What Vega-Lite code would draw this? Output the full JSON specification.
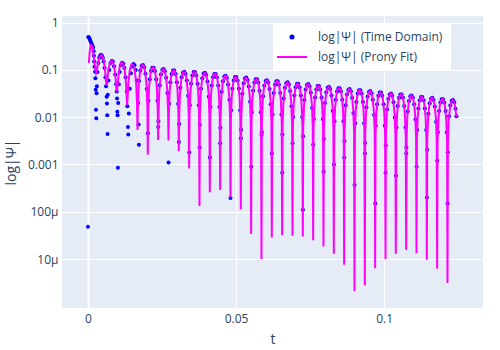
{
"$schema": "https://vega.github.io/schema/vega-lite/v6.json",
"width": 421, "height": 292,
"autosize": {"type": "none"},
"padding": {"left": 62, "top": 16, "right": 17, "bottom": 42},
"background": "white",
"config": {"view": {"fill": "#E5ECF6", "stroke": null}, "font": "Open Sans",
  "legend": {"orient": "none", "legendX": 211, "legendY": 7, "fillColor": "white", "padding": 8,
       "labelFont": "Open Sans", "labelFontSize": 12, "labelColor": "#2a3f5f", "rowPadding": 8,
       "symbolOffset": 5, "labelOffset": 20, "symbolSize": 9, "symbolStrokeWidth": 2}},
"datasets": {
"td": [
{"t":0,"v":0.000048},{"t":0.0001,"v":0.5},{"t":0.0003,"v":0.485},{"t":0.0005,"v":0.46},{"t":0.0007,"v":0.43},{"t":0.0009,"v":0.4},{"t":0.0011,"v":0.37},{"t":0.0013,"v":0.345},{"t":0.0015,"v":0.32},{"t":0.0017,"v":0.3},{"t":0.0019,"v":0.25},{"t":0.002,"v":0.2},{"t":0.0021,"v":0.15},{"t":0.0022,"v":0.117},{"t":0.0024,"v":0.092},{"t":0.0025,"v":0.067},{"t":0.0026,"v":0.038},{"t":0.0027,"v":0.0144},{"t":0.0028,"v":0.0095},{"t":0.0029,"v":0.032},
{"t":0.003,"v":0.045},{"t":0.0032,"v":0.09},{"t":0.0035,"v":0.14},{"t":0.0038,"v":0.18},{"t":0.0041,"v":0.2},{"t":0.0044,"v":0.21},{"t":0.0047,"v":0.2},{"t":0.005,"v":0.18},{"t":0.0053,"v":0.15},{"t":0.0056,"v":0.11},{"t":0.0059,"v":0.07},{"t":0.0061,"v":0.045},{"t":0.0063,"v":0.027},{"t":0.0064,"v":0.0195},{"t":0.0065,"v":0.011},{"t":0.0066,"v":0.0044},
{"t":0.0067,"v":0.03},{"t":0.0069,"v":0.06},{"t":0.0072,"v":0.1},{"t":0.0076,"v":0.14},{"t":0.008,"v":0.155},{"t":0.0084,"v":0.15},{"t":0.0088,"v":0.12},{"t":0.0092,"v":0.08},{"t":0.0095,"v":0.05},{"t":0.0097,"v":0.035},{"t":0.0098,"v":0.025},{"t":0.0099,"v":0.013},{"t":0.01,"v":0.011},{"t":0.0101,"v":0.00085},
{"t":0.0102,"v":0.02},{"t":0.0104,"v":0.05},{"t":0.0107,"v":0.09},{"t":0.0111,"v":0.125},{"t":0.0115,"v":0.142},{"t":0.0119,"v":0.135},{"t":0.0123,"v":0.11},{"t":0.0127,"v":0.07},{"t":0.0131,"v":0.035},{"t":0.0133,"v":0.017},{"t":0.0135,"v":0.0062},{"t":0.0136,"v":0.0043},
{"t":0.0138,"v":0.012},{"t":0.0141,"v":0.04},{"t":0.0145,"v":0.085},{"t":0.0149,"v":0.118},{"t":0.0153,"v":0.133},{"t":0.0157,"v":0.125},{"t":0.0161,"v":0.1},{"t":0.0165,"v":0.06},{"t":0.0169,"v":0.02},{"t":0.0171,"v":0.007},{"t":0.0172,"v":0.0026},
{"t":0.01723,"v":0.0581},{"t":0.01767,"v":0.0973},{"t":0.01811,"v":0.1217},{"t":0.01854,"v":0.1276},{"t":0.01898,"v":0.114},{"t":0.01941,"v":0.0831},{"t":0.01985,"v":0.0396},{"t":0.02023,"v":0.0046},
{"t":0.02042,"v":0.0222},{"t":0.02085,"v":0.0634},{"t":0.02129,"v":0.0947},{"t":0.02173,"v":0.1118},{"t":0.02216,"v":0.1118},{"t":0.0226,"v":0.0947},{"t":0.02304,"v":0.0634},{"t":0.02347,"v":0.0222},{"t":0.02372,"v":0.0062},
{"t":0.02378,"v":0.00824},{"t":0.02421,"v":0.0477},{"t":0.02465,"v":0.0798},{"t":0.02509,"v":0.0999},{"t":0.02552,"v":0.1047},{"t":0.02596,"v":0.0936},{"t":0.02639,"v":0.0681},{"t":0.02683,"v":0.0324},{"t":0.02721,"v":0.0011},
{"t":0.0274,"v":0.0193},{"t":0.02783,"v":0.055},{"t":0.02827,"v":0.0823},{"t":0.02871,"v":0.0971},{"t":0.02914,"v":0.0971},{"t":0.02958,"v":0.0823},{"t":0.03002,"v":0.055},{"t":0.03045,"v":0.0193},{"t":0.0307,"v":0.003},
{"t":0.03076,"v":0.00722},{"t":0.03119,"v":0.0418},{"t":0.03163,"v":0.0699},{"t":0.03207,"v":0.0875},{"t":0.0325,"v":0.0917},{"t":0.03294,"v":0.082},{"t":0.03337,"v":0.0597},{"t":0.03381,"v":0.0284},{"t":0.03419,"v":0.0018},
{"t":0.03438,"v":0.0179},{"t":0.03481,"v":0.0512},{"t":0.03525,"v":0.0765},{"t":0.03569,"v":0.0903},{"t":0.03612,"v":0.0903},{"t":0.03656,"v":0.0765},{"t":0.037,"v":0.0512},{"t":0.03743,"v":0.0179},{"t":0.03768,"v":0.0023},
{"t":0.03774,"v":0.00691},{"t":0.03817,"v":0.04},{"t":0.03861,"v":0.0669},{"t":0.03905,"v":0.0837},{"t":0.03948,"v":0.0877},{"t":0.03992,"v":0.0784},{"t":0.04035,"v":0.0571},{"t":0.04079,"v":0.0272},{"t":0.04117,"v":0.0014},
{"t":0.04136,"v":0.0164},{"t":0.04179,"v":0.0467},{"t":0.04223,"v":0.0698},{"t":0.04267,"v":0.0824},{"t":0.0431,"v":0.0824},{"t":0.04354,"v":0.0698},{"t":0.04398,"v":0.0467},{"t":0.04441,"v":0.0164},{"t":0.04466,"v":0.0028},
{"t":0.04472,"v":0.00597},{"t":0.04515,"v":0.0345},{"t":0.04559,"v":0.0578},{"t":0.04603,"v":0.0723},{"t":0.04646,"v":0.0758},{"t":0.0469,"v":0.0677},{"t":0.04733,"v":0.0493},{"t":0.04777,"v":0.0235},{"t":0.04812,"v":0.000195},
{"t":0.04834,"v":0.014},{"t":0.04877,"v":0.04},{"t":0.04921,"v":0.0598},{"t":0.04965,"v":0.0706},{"t":0.05008,"v":0.0706},{"t":0.05052,"v":0.0598},{"t":0.05096,"v":0.04},{"t":0.05139,"v":0.014},{"t":0.05164,"v":0.0036},
{"t":0.0517,"v":0.00542},{"t":0.05213,"v":0.0313},{"t":0.05257,"v":0.0524},{"t":0.05301,"v":0.0656},{"t":0.05344,"v":0.0688},{"t":0.05388,"v":0.0615},{"t":0.05431,"v":0.0448},{"t":0.05475,"v":0.0213},{"t":0.05513,"v":0.0009},
{"t":0.05532,"v":0.0127},{"t":0.05575,"v":0.0361},{"t":0.05619,"v":0.054},{"t":0.05663,"v":0.0638},{"t":0.05706,"v":0.0638},{"t":0.0575,"v":0.054},{"t":0.05794,"v":0.0361},{"t":0.05837,"v":0.0127},{"t":0.05862,"v":0.0042},
{"t":0.05868,"v":0.00479},{"t":0.05911,"v":0.0277},{"t":0.05955,"v":0.0464},{"t":0.05999,"v":0.058},{"t":0.06042,"v":0.0608},{"t":0.06086,"v":0.0544},{"t":0.06129,"v":0.0396},{"t":0.06173,"v":0.0188},{"t":0.06211,"v":0.0017},
{"t":0.0623,"v":0.0114},{"t":0.06273,"v":0.0326},{"t":0.06317,"v":0.0487},{"t":0.06361,"v":0.0575},{"t":0.06404,"v":0.0575},{"t":0.06448,"v":0.0487},{"t":0.06492,"v":0.0326},{"t":0.06535,"v":0.0114},{"t":0.0656,"v":0.00067},
{"t":0.06566,"v":0.00432},{"t":0.06609,"v":0.025},{"t":0.06653,"v":0.0418},{"t":0.06697,"v":0.0523},{"t":0.0674,"v":0.0548},{"t":0.06784,"v":0.049},{"t":0.06827,"v":0.0357},{"t":0.06871,"v":0.017},{"t":0.06909,"v":0.0028},
{"t":0.06928,"v":0.0101},{"t":0.06971,"v":0.0289},{"t":0.07015,"v":0.0432},{"t":0.07059,"v":0.051},{"t":0.07102,"v":0.051},{"t":0.07146,"v":0.0432},{"t":0.0719,"v":0.0289},{"t":0.07233,"v":0.0101},{"t":0.07258,"v":0.00011},
{"t":0.07264,"v":0.00397},{"t":0.07307,"v":0.023},{"t":0.07351,"v":0.0385},{"t":0.07395,"v":0.0481},{"t":0.07438,"v":0.0504},{"t":0.07482,"v":0.0451},{"t":0.07525,"v":0.0328},{"t":0.07569,"v":0.0156},{"t":0.07607,"v":0.0026},
{"t":0.07626,"v":0.00911},{"t":0.07669,"v":0.026},{"t":0.07713,"v":0.0388},{"t":0.07757,"v":0.0458},{"t":0.078,"v":0.0458},{"t":0.07844,"v":0.0388},{"t":0.07888,"v":0.026},{"t":0.07931,"v":0.00911},{"t":0.07956,"v":0.0007},
{"t":0.07962,"v":0.00348},{"t":0.08005,"v":0.0201},{"t":0.08049,"v":0.0337},{"t":0.08093,"v":0.0421},{"t":0.08136,"v":0.0442},{"t":0.0818,"v":0.0395},{"t":0.08223,"v":0.0288},{"t":0.08267,"v":0.0137},{"t":0.08305,"v":0.001},
{"t":0.08324,"v":0.00819},{"t":0.08367,"v":0.0234},{"t":0.08411,"v":0.0349},{"t":0.08455,"v":0.0412},{"t":0.08498,"v":0.0412},{"t":0.08542,"v":0.0349},{"t":0.08586,"v":0.0234},{"t":0.08629,"v":0.00819},{"t":0.08654,"v":0.0014},
{"t":0.0866,"v":0.00312},{"t":0.08703,"v":0.018},{"t":0.08747,"v":0.0302},{"t":0.08791,"v":0.0378},{"t":0.08834,"v":0.0396},{"t":0.08878,"v":0.0354},{"t":0.08921,"v":0.0258},{"t":0.08965,"v":0.0123},{"t":0.09003,"v":0.00037},
{"t":0.09022,"v":0.00741},{"t":0.09065,"v":0.0211},{"t":0.09109,"v":0.0316},{"t":0.09153,"v":0.0373},{"t":0.09196,"v":0.0373},{"t":0.0924,"v":0.0316},{"t":0.09284,"v":0.0211},{"t":0.09327,"v":0.00741},{"t":0.09352,"v":0.0017},
{"t":0.09358,"v":0.00283},{"t":0.09401,"v":0.0163},{"t":0.09445,"v":0.0274},{"t":0.09489,"v":0.0342},{"t":0.09532,"v":0.0359},{"t":0.09576,"v":0.0321},{"t":0.09619,"v":0.0234},{"t":0.09663,"v":0.0111},{"t":0.09701,"v":0.00015},
{"t":0.0972,"v":0.00663},{"t":0.09763,"v":0.0189},{"t":0.09807,"v":0.0283},{"t":0.09851,"v":0.0334},{"t":0.09894,"v":0.0334},{"t":0.09938,"v":0.0283},{"t":0.09982,"v":0.0189},{"t":0.10025,"v":0.00663},{"t":0.1005,"v":0.00067},
{"t":0.10056,"v":0.00251},{"t":0.10099,"v":0.0145},{"t":0.10143,"v":0.0243},{"t":0.10187,"v":0.0304},{"t":0.1023,"v":0.0319},{"t":0.10274,"v":0.0285},{"t":0.10317,"v":0.0208},{"t":0.10361,"v":0.00989},{"t":0.10399,"v":0.00058},
{"t":0.10418,"v":0.00605},{"t":0.10461,"v":0.0172},{"t":0.10505,"v":0.0258},{"t":0.10549,"v":0.0304},{"t":0.10592,"v":0.0304},{"t":0.10636,"v":0.0258},{"t":0.1068,"v":0.0172},{"t":0.10723,"v":0.00605},{"t":0.10748,"v":0.0017},
{"t":0.10754,"v":0.00228},{"t":0.10797,"v":0.0132},{"t":0.10841,"v":0.022},{"t":0.10885,"v":0.0276},{"t":0.10928,"v":0.0289},{"t":0.10972,"v":0.0258},{"t":0.11015,"v":0.0188},{"t":0.11059,"v":0.00896},{"t":0.11097,"v":0.0009},
{"t":0.11116,"v":0.00534},{"t":0.11159,"v":0.0152},{"t":0.11203,"v":0.0228},{"t":0.11247,"v":0.0269},{"t":0.1129,"v":0.0269},{"t":0.11334,"v":0.0228},{"t":0.11378,"v":0.0152},{"t":0.11421,"v":0.00534},{"t":0.11446,"v":0.0002},
{"t":0.11452,"v":0.00204},{"t":0.11495,"v":0.0118},{"t":0.11539,"v":0.0198},{"t":0.11583,"v":0.0247},{"t":0.11626,"v":0.0259},{"t":0.1167,"v":0.0232},{"t":0.11713,"v":0.0169},{"t":0.11757,"v":0.00803},{"t":0.11795,"v":0.0012},
{"t":0.11814,"v":0.00478},{"t":0.11857,"v":0.0136},{"t":0.11901,"v":0.0204},{"t":0.11945,"v":0.024},{"t":0.11988,"v":0.024},{"t":0.12032,"v":0.0204},{"t":0.12076,"v":0.0136},{"t":0.12119,"v":0.00478},{"t":0.12144,"v":0.00015},
{"t":0.1215,"v":0.00182},{"t":0.12193,"v":0.0105},{"t":0.12237,"v":0.0176},{"t":0.12281,"v":0.0221},{"t":0.12324,"v":0.0231},{"t":0.12368,"v":0.0207},{"t":0.12411,"v":0.0151},{"t":0.12443,"v":0.0105}
],
"fit": [
{"t":0.0003,"v":0.14},{"t":0.0005,"v":0.22},{"t":0.0007,"v":0.29},{"t":0.0009,"v":0.335},{"t":0.0011,"v":0.34},{"t":0.0013,"v":0.325},{"t":0.0016,"v":0.27},{"t":0.0019,"v":0.2},{"t":0.0022,"v":0.14},{"t":0.0025,"v":0.105},
{"t":0.00275,"v":0.085},{"t":0.00289,"v":0.0889},{"t":0.00317,"v":0.114},{"t":0.00362,"v":0.169},{"t":0.00408,"v":0.195},{"t":0.0045,"v":0.207},{"t":0.00491,"v":0.195},{"t":0.00537,"v":0.154},{"t":0.00582,"v":0.0895},{"t":0.0061,"v":0.0537},
{"t":0.00624,"v":0.047},{"t":0.00638,"v":0.051},{"t":0.00666,"v":0.0745},{"t":0.00711,"v":0.12},{"t":0.00757,"v":0.15},{"t":0.00799,"v":0.157},{"t":0.0084,"v":0.15},{"t":0.00886,"v":0.116},{"t":0.00931,"v":0.067},{"t":0.00959,"v":0.039},
{"t":0.00973,"v":0.034},{"t":0.00987,"v":0.0385},{"t":0.01015,"v":0.0627},{"t":0.0106,"v":0.107},{"t":0.01106,"v":0.137},{"t":0.01148,"v":0.143},{"t":0.01189,"v":0.134},{"t":0.01235,"v":0.1026},{"t":0.0128,"v":0.0556},{"t":0.01308,"v":0.0254},
{"t":0.01322,"v":0.018},{"t":0.01336,"v":0.0246},{"t":0.01364,"v":0.0525},{"t":0.01409,"v":0.0964},{"t":0.01455,"v":0.126},{"t":0.01497,"v":0.134},{"t":0.01538,"v":0.1246},{"t":0.01584,"v":0.0947},{"t":0.01629,"v":0.0496},{"t":0.01657,"v":0.0176},
{"t":0.01671,"v":0.0054},{"t":0.01685,"v":0.016},{"t":0.01713,"v":0.0471},{"t":0.01758,"v":0.0905},{"t":0.01804,"v":0.119},{"t":0.01846,"v":0.128},{"t":0.01887,"v":0.119},{"t":0.01933,"v":0.0905},{"t":0.01978,"v":0.0471},{"t":0.02006,"v":0.016},
{"t":0.0202,"v":0.0016},{"t":0.02034,"v":0.0143},{"t":0.02062,"v":0.042},{"t":0.02107,"v":0.0806},{"t":0.02153,"v":0.106},{"t":0.02195,"v":0.114},{"t":0.02236,"v":0.106},{"t":0.02282,"v":0.0806},{"t":0.02327,"v":0.042},{"t":0.02355,"v":0.0143},
{"t":0.02369,"v":0.0033},{"t":0.02383,"v":0.0132},{"t":0.02411,"v":0.0386},{"t":0.02456,"v":0.0742},{"t":0.02502,"v":0.0977},{"t":0.02544,"v":0.105},{"t":0.02585,"v":0.0977},{"t":0.02631,"v":0.0742},{"t":0.02676,"v":0.0386},{"t":0.02704,"v":0.0132},
{"t":0.02718,"v":0.0032},{"t":0.02732,"v":0.0124},{"t":0.0276,"v":0.0364},{"t":0.02805,"v":0.07},{"t":0.02851,"v":0.0921},{"t":0.02893,"v":0.099},{"t":0.02934,"v":0.0921},{"t":0.0298,"v":0.07},{"t":0.03025,"v":0.0364},{"t":0.03053,"v":0.0124},
{"t":0.03067,"v":0.0019},{"t":0.03081,"v":0.0115},{"t":0.03109,"v":0.0339},{"t":0.03154,"v":0.065},{"t":0.032,"v":0.0856},{"t":0.03242,"v":0.092},{"t":0.03283,"v":0.0856},{"t":0.03329,"v":0.065},{"t":0.03374,"v":0.0339},{"t":0.03402,"v":0.0115},
{"t":0.03416,"v":0.00082},{"t":0.0343,"v":0.0115},{"t":0.03458,"v":0.0339},{"t":0.03503,"v":0.065},{"t":0.03549,"v":0.0856},{"t":0.03591,"v":0.092},{"t":0.03632,"v":0.0856},{"t":0.03678,"v":0.065},{"t":0.03723,"v":0.0339},{"t":0.03751,"v":0.0115},
{"t":0.03765,"v":0.000133},{"t":0.03779,"v":0.011},{"t":0.03807,"v":0.0324},{"t":0.03852,"v":0.0622},{"t":0.03898,"v":0.0818},{"t":0.0394,"v":0.088},{"t":0.03981,"v":0.0818},{"t":0.04027,"v":0.0622},{"t":0.04072,"v":0.0324},{"t":0.041,"v":0.011},
{"t":0.04114,"v":0.00026},{"t":0.04128,"v":0.0105},{"t":0.04156,"v":0.0309},{"t":0.04201,"v":0.0594},{"t":0.04247,"v":0.0781},{"t":0.04289,"v":0.084},{"t":0.0433,"v":0.0781},{"t":0.04376,"v":0.0594},{"t":0.04421,"v":0.0309},{"t":0.04449,"v":0.0105},
{"t":0.04463,"v":0.00029},{"t":0.04477,"v":0.00952},{"t":0.04505,"v":0.028},{"t":0.0455,"v":0.0537},{"t":0.04596,"v":0.0707},{"t":0.04638,"v":0.076},{"t":0.04679,"v":0.0707},{"t":0.04725,"v":0.0537},{"t":0.0477,"v":0.028},{"t":0.04798,"v":0.00952},
{"t":0.04812,"v":0.000195},{"t":0.04826,"v":0.00902},{"t":0.04854,"v":0.0265},{"t":0.04899,"v":0.0509},{"t":0.04945,"v":0.067},{"t":0.04987,"v":0.072},{"t":0.05028,"v":0.067},{"t":0.05074,"v":0.0509},{"t":0.05119,"v":0.0265},{"t":0.05147,"v":0.00902},
{"t":0.05161,"v":0.000113},{"t":0.05175,"v":0.00865},{"t":0.05203,"v":0.0254},{"t":0.05248,"v":0.0488},{"t":0.05294,"v":0.0642},{"t":0.05336,"v":0.069},{"t":0.05377,"v":0.0642},{"t":0.05423,"v":0.0488},{"t":0.05468,"v":0.0254},{"t":0.05496,"v":0.00865},
{"t":0.0551,"v":0.000034},{"t":0.05524,"v":0.00814},{"t":0.05552,"v":0.0239},{"t":0.05597,"v":0.046},{"t":0.05643,"v":0.0605},{"t":0.05685,"v":0.065},{"t":0.05726,"v":0.0605},{"t":0.05772,"v":0.046},{"t":0.05817,"v":0.0239},{"t":0.05845,"v":0.00814},
{"t":0.05859,"v":0.00001},{"t":0.05873,"v":0.00764},{"t":0.05901,"v":0.0224},{"t":0.05946,"v":0.0431},{"t":0.05992,"v":0.0567},{"t":0.06034,"v":0.061},{"t":0.06075,"v":0.0567},{"t":0.06121,"v":0.0431},{"t":0.06166,"v":0.0224},{"t":0.06194,"v":0.00764},
{"t":0.06208,"v":0.0000285},{"t":0.06222,"v":0.00734},{"t":0.0625,"v":0.0216},{"t":0.06295,"v":0.0414},{"t":0.06341,"v":0.0545},{"t":0.06383,"v":0.0586},{"t":0.06424,"v":0.0545},{"t":0.0647,"v":0.0414},{"t":0.06515,"v":0.0216},{"t":0.06543,"v":0.00734},
{"t":0.06557,"v":0.000032},{"t":0.06571,"v":0.00689},{"t":0.06599,"v":0.0202},{"t":0.06644,"v":0.0389},{"t":0.0669,"v":0.0512},{"t":0.06732,"v":0.055},{"t":0.06773,"v":0.0512},{"t":0.06819,"v":0.0389},{"t":0.06864,"v":0.0202},{"t":0.06892,"v":0.00689},
{"t":0.06906,"v":0.000031},{"t":0.0692,"v":0.00652},{"t":0.06948,"v":0.0191},{"t":0.06993,"v":0.0368},{"t":0.07039,"v":0.0484},{"t":0.07081,"v":0.052},{"t":0.07122,"v":0.0484},{"t":0.07168,"v":0.0368},{"t":0.07213,"v":0.0191},{"t":0.07241,"v":0.00652},
{"t":0.07255,"v":0.00003},{"t":0.07269,"v":0.00634},{"t":0.07297,"v":0.0186},{"t":0.07342,"v":0.0358},{"t":0.07388,"v":0.0471},{"t":0.0743,"v":0.0506},{"t":0.07471,"v":0.0471},{"t":0.07517,"v":0.0358},{"t":0.07562,"v":0.0186},{"t":0.0759,"v":0.00634},
{"t":0.07604,"v":0.000025},{"t":0.07618,"v":0.00585},{"t":0.07646,"v":0.0172},{"t":0.07691,"v":0.033},{"t":0.07737,"v":0.0434},{"t":0.07779,"v":0.0467},{"t":0.0782,"v":0.0434},{"t":0.07866,"v":0.033},{"t":0.07911,"v":0.0172},{"t":0.07939,"v":0.00585},
{"t":0.07953,"v":0.0000184},{"t":0.07967,"v":0.00555},{"t":0.07995,"v":0.0163},{"t":0.0804,"v":0.0313},{"t":0.08086,"v":0.0412},{"t":0.08128,"v":0.0443},{"t":0.08169,"v":0.0412},{"t":0.08215,"v":0.0313},{"t":0.0826,"v":0.0163},{"t":0.08288,"v":0.00555},
{"t":0.08302,"v":0.000013},{"t":0.08316,"v":0.00526},{"t":0.08344,"v":0.0155},{"t":0.08389,"v":0.0297},{"t":0.08435,"v":0.0391},{"t":0.08477,"v":0.042},{"t":0.08518,"v":0.0391},{"t":0.08564,"v":0.0297},{"t":0.08609,"v":0.0155},{"t":0.08637,"v":0.00526},
{"t":0.08651,"v":0.0000076},{"t":0.08665,"v":0.00497},{"t":0.08693,"v":0.0146},{"t":0.08738,"v":0.0281},{"t":0.08784,"v":0.0369},{"t":0.08826,"v":0.0397},{"t":0.08867,"v":0.0369},{"t":0.08913,"v":0.0281},{"t":0.08958,"v":0.0146},{"t":0.08986,"v":0.00497},
{"t":0.09,"v":0.0000021},{"t":0.09014,"v":0.00476},{"t":0.09042,"v":0.014},{"t":0.09087,"v":0.0269},{"t":0.09133,"v":0.0353},{"t":0.09175,"v":0.038},{"t":0.09216,"v":0.0353},{"t":0.09262,"v":0.0269},{"t":0.09307,"v":0.014},{"t":0.09335,"v":0.00476},
{"t":0.09349,"v":0.0000028},{"t":0.09363,"v":0.00451},{"t":0.09391,"v":0.0132},{"t":0.09436,"v":0.0255},{"t":0.09482,"v":0.0335},{"t":0.09524,"v":0.036},{"t":0.09565,"v":0.0335},{"t":0.09611,"v":0.0255},{"t":0.09656,"v":0.0132},{"t":0.09684,"v":0.00451},
{"t":0.09698,"v":0.0000064},{"t":0.09712,"v":0.00426},{"t":0.0974,"v":0.0125},{"t":0.09785,"v":0.024},{"t":0.09831,"v":0.0316},{"t":0.09873,"v":0.034},{"t":0.09914,"v":0.0316},{"t":0.0996,"v":0.024},{"t":0.10005,"v":0.0125},{"t":0.10033,"v":0.00426},
{"t":0.10047,"v":0.00001},{"t":0.10061,"v":0.00401},{"t":0.10089,"v":0.0118},{"t":0.10134,"v":0.0226},{"t":0.1018,"v":0.0298},{"t":0.10222,"v":0.032},{"t":0.10263,"v":0.0298},{"t":0.10309,"v":0.0226},{"t":0.10354,"v":0.0118},{"t":0.10382,"v":0.00401},
{"t":0.10396,"v":0.000013},{"t":0.1041,"v":0.00388},{"t":0.10438,"v":0.0114},{"t":0.10483,"v":0.0219},{"t":0.10529,"v":0.0288},{"t":0.10571,"v":0.031},{"t":0.10612,"v":0.0288},{"t":0.10658,"v":0.0219},{"t":0.10703,"v":0.0114},{"t":0.10731,"v":0.00388},
{"t":0.10745,"v":0.0000157},{"t":0.10759,"v":0.00363},{"t":0.10787,"v":0.0107},{"t":0.10832,"v":0.0205},{"t":0.10878,"v":0.027},{"t":0.1092,"v":0.029},{"t":0.10961,"v":0.027},{"t":0.11007,"v":0.0205},{"t":0.11052,"v":0.0107},{"t":0.1108,"v":0.00363},
{"t":0.11094,"v":0.0000133},{"t":0.11108,"v":0.00343},{"t":0.11136,"v":0.0101},{"t":0.11181,"v":0.0194},{"t":0.11227,"v":0.0255},{"t":0.11269,"v":0.0274},{"t":0.1131,"v":0.0255},{"t":0.11356,"v":0.0194},{"t":0.11401,"v":0.0101},{"t":0.11429,"v":0.00343},
{"t":0.11443,"v":0.0000096},{"t":0.11457,"v":0.00326},{"t":0.11485,"v":0.00957},{"t":0.1153,"v":0.0184},{"t":0.11576,"v":0.0242},{"t":0.11618,"v":0.026},{"t":0.11659,"v":0.0242},{"t":0.11705,"v":0.0184},{"t":0.1175,"v":0.00957},{"t":0.11778,"v":0.00326},
{"t":0.11792,"v":0.0000062},{"t":0.11806,"v":0.00307},{"t":0.11834,"v":0.00902},{"t":0.11879,"v":0.0173},{"t":0.11925,"v":0.0228},{"t":0.11967,"v":0.0245},{"t":0.12008,"v":0.0228},{"t":0.12054,"v":0.0173},{"t":0.12099,"v":0.00902},{"t":0.12127,"v":0.00307},
{"t":0.12141,"v":0.0000031},{"t":0.12155,"v":0.00291},{"t":0.12183,"v":0.00854},{"t":0.12228,"v":0.0164},{"t":0.12274,"v":0.0216},{"t":0.12316,"v":0.0232},{"t":0.12357,"v":0.0216},{"t":0.12403,"v":0.0164},{"t":0.12443,"v":0.01}
]
},
"encoding": {
  "x": {"field": "t", "type": "quantitative",
    "scale": {"domain": [-0.00878, 0.1334], "nice": false, "zero": false},
    "axis": {"values": [0, 0.05, 0.1], "title": "t", "labelExpr": "'' + datum.value",
      "titleFont": "Open Sans", "titleFontSize": 14, "titleFontWeight": "normal", "titleColor": "#2a3f5f", "titlePadding": 8,
      "labelFont": "Open Sans", "labelFontSize": 12, "labelColor": "#2a3f5f", "labelPadding": 5, "labelFlush": false,
      "ticks": false, "domain": false, "gridColor": "white",
      "gridWidth": {"condition": {"test": "datum.value === 0", "value": 2}, "value": 1}}},
  "y": {"field": "v", "type": "quantitative",
    "scale": {"type": "log", "domain": [0.00000092, 1.384], "nice": false},
    "axis": {"values": [0.00001, 0.0001, 0.001, 0.01, 0.1, 1], "title": "log|Ψ|",
      "labelExpr": "datum.value >= 0.001 ? '' + datum.value : (datum.value >= 0.00005 ? '100μ' : '10μ')",
      "titleFont": "Open Sans", "titleFontSize": 14, "titleFontWeight": "normal", "titleColor": "#2a3f5f", "titlePadding": 9,
      "labelFont": "Open Sans", "labelFontSize": 12, "labelColor": "#2a3f5f", "labelPadding": 4,
      "ticks": false, "domain": false, "gridColor": "white", "gridWidth": 1}},
  "color": {"datum": "log|Ψ| (Time Domain)",
     "scale": {"domain": ["log|Ψ| (Time Domain)", "log|Ψ| (Prony Fit)"], "range": ["#0000ff", "#ff00ff"]},
     "legend": {"title": null,
       "encoding": {"symbols": {
         "shape": {"condition": {"test": "datum.value === 'log|Ψ| (Time Domain)'", "value": "circle"}, "value": "M-10,0H10"},
         "fill": {"condition": {"test": "datum.value === 'log|Ψ| (Time Domain)'", "value": "#0000ff"}, "value": "transparent"},
         "stroke": {"condition": {"test": "datum.value === 'log|Ψ| (Time Domain)'", "value": "transparent"}, "value": "#ff00ff"},
         "strokeWidth": {"value": 2}, "opacity": {"value": 1}, "size": {"value": 9}}}}}
},
"layer": [
  {"data": {"name": "td"},
   "mark": {"type": "point", "filled": true, "size": 16, "opacity": 1, "strokeWidth": 0, "clip": true}},
  {"data": {"name": "fit"},
   "mark": {"type": "line", "strokeWidth": 2, "clip": true},
   "encoding": {"color": {"datum": "log|Ψ| (Prony Fit)",
     "legend": {"title": null,
       "encoding": {"symbols": {
         "shape": {"condition": {"test": "datum.value === 'log|Ψ| (Time Domain)'", "value": "circle"}, "value": "M-10,0H10"},
         "fill": {"condition": {"test": "datum.value === 'log|Ψ| (Time Domain)'", "value": "#0000ff"}, "value": "transparent"},
         "stroke": {"condition": {"test": "datum.value === 'log|Ψ| (Time Domain)'", "value": "transparent"}, "value": "#ff00ff"},
         "strokeWidth": {"value": 2}, "opacity": {"value": 1}, "size": {"value": 9}}}}}}}
]
}
